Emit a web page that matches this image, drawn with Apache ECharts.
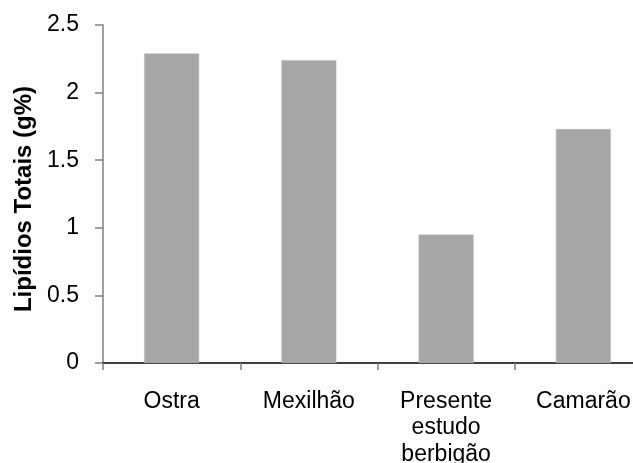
<!DOCTYPE html>
<html>
<head>
<meta charset="utf-8">
<script src="https://cdn.jsdelivr.net/npm/echarts@6/dist/echarts.min.js"></script>
<style>
  html, body { margin: 0; padding: 0; background: #fdfdfd; overflow: hidden; }
  #chart { width: 660px; height: 463px; }
</style>
</head>
<body>
<div id="chart"></div>
<script>
// Total lipid content per shellfish group
const categories = ['Ostra', 'Mexilhão', 'Presente\nestudo\nberbigão', 'Camarão'];
const lipidValues = [2.29, 2.24, 0.95, 1.73];
const yTicks = { min: 0, max: 2.5, interval: 0.5 };
const yAxisTitle = 'Lipídios Totais (g%)';

const FONT = '"Liberation Sans", Arial, sans-serif';

const chart = echarts.init(document.getElementById('chart'), null, { renderer: 'canvas' });
chart.setOption({
  backgroundColor: '#fdfdfd',
  animation: false,
  // the last category runs past the visible 633px width
  grid: {
    left: 103, top: 25, bottom: 100, right: 8,
    containLabel: false,
    outerBoundsMode: 'none'
  },
  xAxis: {
    type: 'category',
    data: categories,
    axisLine: { lineStyle: { color: '#000', width: 1.5 } },
    axisTick: { show: true, length: 7, lineStyle: { color: '#808080', width: 1.5 } },
    axisLabel: {
      margin: 25,
      color: '#000',
      fontFamily: FONT,
      fontSize: 23,
      lineHeight: 26.5,
      interval: 0
    }
  },
  yAxis: {
    type: 'value',
    min: yTicks.min,
    max: yTicks.max,
    interval: yTicks.interval,
    name: yAxisTitle,
    nameLocation: 'middle',
    nameGap: 67,
    nameTextStyle: {
      color: '#000',
      fontFamily: FONT,
      fontSize: 24,
      fontWeight: 'bold',
      padding: [0, 10, 0, 0]
    },
    axisLine: { show: true, lineStyle: { color: '#808080', width: 1.5 } },
    axisTick: { show: true, length: 8, lineStyle: { color: '#808080', width: 1.5 } },
    splitLine: { show: false },
    axisLabel: {
      margin: 24,
      color: '#000',
      fontFamily: FONT,
      fontSize: 23
    }
  },
  series: [{
    type: 'bar',
    data: lipidValues,
    barWidth: 55,
    itemStyle: { color: '#a6a6a6', borderColor: '#bdbdbd', borderWidth: 0.5 }
  }]
});
</script>
</body>
</html>
